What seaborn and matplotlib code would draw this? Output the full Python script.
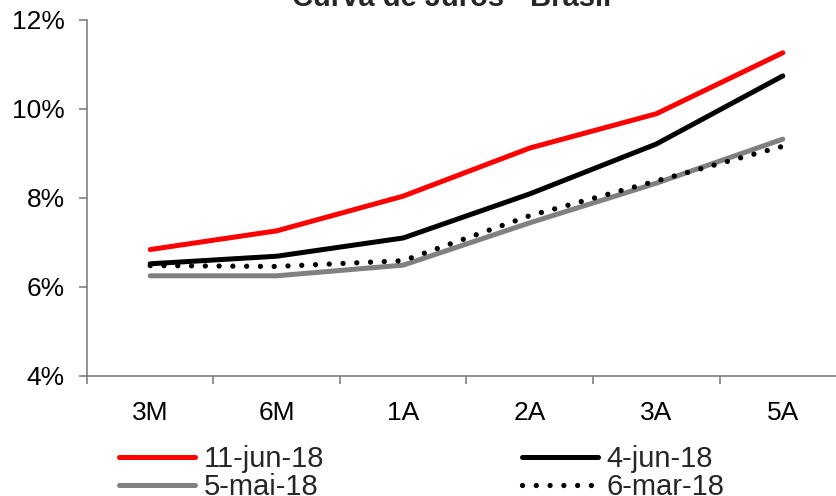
import matplotlib
matplotlib.use("Agg")
import matplotlib.pyplot as plt
import seaborn as sns
from matplotlib.ticker import FixedLocator, FuncFormatter

tenors = ["3M", "6M", "1A", "2A", "3A", "5A"]
jun11 = [6.84, 7.26, 8.04, 9.12, 9.89, 11.26]
jun4 = [6.52, 6.69, 7.10, 8.09, 9.21, 10.74]
mai5 = [6.25, 6.25, 6.49, 7.44, 8.33, 9.32]
mar6 = [6.48, 6.46, 6.59, 7.60, 8.38, 9.16]
series_labels = ["11-jun-18", "4-jun-18", "5-mai-18", "6-mar-18"]
title = "Curva de Juros - Brasil"
yticks = [4, 6, 8, 10, 12]

sns.set_theme(style="white")
plt.rcParams['font.family'] = ['Liberation Sans', 'DejaVu Sans']

fig = plt.figure(figsize=(8.36, 4.96), dpi=100)
ax = fig.add_axes([0.104, 0.242, 0.908, 0.718])

styles = [
    dict(color="#ff0000", lw=3.6, solid_capstyle="round"),
    dict(color="#000000", lw=3.6, solid_capstyle="round"),
    dict(color="#808080", lw=3.6, solid_capstyle="round"),
    dict(color="#000000", lw=3.8, linestyle=(0, (0.01, 2.6)), dash_capstyle="round"),
]
data = [jun11, jun4, mai5, mar6]
for vals, lab, st in zip(data, series_labels, styles):
    sns.lineplot(x=list(range(len(tenors))), y=vals, ax=ax, label=lab, **st)

ax.set_xlim(-0.5, len(tenors) - 0.5)
ax.set_ylim(4, 12)
ax.set_xticks(range(len(tenors)))
ax.set_xticklabels(tenors)
ax.xaxis.set_minor_locator(FixedLocator([i - 0.5 for i in range(len(tenors) + 1)]))
ax.tick_params(axis="x", which="major", length=0, pad=18, labelsize=19, labelcolor="black")
ax.tick_params(axis="x", which="minor", length=6, width=1.2, color="#808080", direction="out", bottom=True)
ax.set_yticks(yticks)
ax.yaxis.set_major_formatter(FuncFormatter(lambda v, p: f"{v:.0f}%"))
ax.tick_params(axis="y", length=6, width=1.2, color="#808080", direction="out", left=True, pad=10, labelsize=19, labelcolor="black")
for s in ["top", "right"]:
    ax.spines[s].set_visible(False)
for s in ["left", "bottom"]:
    ax.spines[s].set_color("#808080")
    ax.spines[s].set_linewidth(1.2)
ax.set_xlabel("")
ax.set_ylabel("")
ax.grid(False)

fig.text(0.54, 0.988, title, ha="center", va="baseline", fontsize=21, fontweight="bold")

h, l = ax.get_legend_handles_labels()
order = [0, 2, 1, 3]
ax.legend([h[i] for i in order], [l[i] for i in order], ncol=2, loc="upper left",
          bbox_to_anchor=(0.142, 0.103),
          bbox_transform=fig.transFigure, frameon=False, fontsize=21,
          handlelength=2.6, handletextpad=0.3, columnspacing=6.8,
          labelspacing=0.0, borderpad=0, borderaxespad=0)

fig.savefig("out.png", dpi=100)
